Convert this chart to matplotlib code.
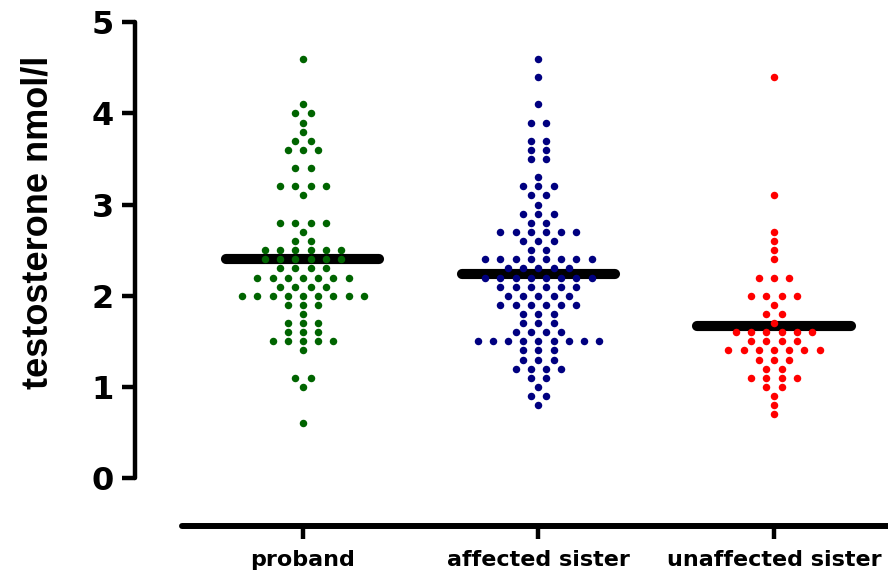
import numpy as np
import matplotlib
matplotlib.use("Agg")
import matplotlib.pyplot as plt
from collections import Counter

# --- Data -------------------------------------------------------------------
groups = ["proband", "affected sister", "unaffected sister"]
colors = ["#006400", "#000080", "#ff0000"]

proband = (
    [4.6, 4.1] + [4.0] * 2 + [3.9, 3.8] + [3.7] * 2 + [3.6] * 3 + [3.4] * 2
    + [3.2] * 4 + [3.1] + [2.8] * 4 + [2.7] + [2.6] * 2 + [2.5] * 6
    + [2.4] * 6 + [2.3] * 4 + [2.2] * 7 + [2.1] * 4 + [2.0] * 9 + [1.9] * 3
    + [1.8] + [1.7] * 3 + [1.6] * 3 + [1.5] * 5 + [1.4] + [1.1] * 2
    + [1.0] + [0.6]
)

affected_sister = (
    [4.6, 4.4, 4.1] + [3.9] * 2 + [3.7] * 2 + [3.6] * 2 + [3.5] * 2 + [3.3]
    + [3.2] * 3 + [3.1] * 2 + [3.0] + [2.9] * 3 + [2.8] * 2 + [2.7] * 6
    + [2.6] * 3 + [2.5] * 2 + [2.4] * 8 + [2.3] * 5 + [2.2] * 8 + [2.1] * 6
    + [2.0] * 5 + [1.9] * 6 + [1.8] * 3 + [1.7] * 3 + [1.6] * 4 + [1.5] * 9
    + [1.4] * 3 + [1.3] * 3 + [1.2] * 4 + [1.1] * 2 + [1.0] + [0.9] * 2
    + [0.8]
)

unaffected_sister = (
    [4.4, 3.1, 2.7, 2.6, 2.5, 2.4] + [2.2] * 3 + [2.0] * 4 + [1.9]
    + [1.8] * 2 + [1.7] + [1.6] * 6 + [1.5] * 4 + [1.4] * 7 + [1.3] * 3
    + [1.2] * 2 + [1.1] * 4 + [1.0] * 2 + [0.9] + [0.8] + [0.7]
)

series = [proband, affected_sister, unaffected_sister]

# --- Layout -----------------------------------------------------------------
W, H = 888, 583
DOT_STEP = 0.0645      # horizontal spacing between tied points (x units)
MEAN_HALF = 0.325      # half length of the mean bar

def spread(values, centre):
    """Lay tied values side by side around the group centre."""
    counts = Counter(values)
    xs, ys = [], []
    for v, n in counts.items():
        offs = (np.arange(n) - (n - 1) / 2) * DOT_STEP
        xs.extend(centre + offs)
        ys.extend([v] * n)
    return np.array(xs), np.array(ys)

plt.rcParams["font.family"] = ["Liberation Sans", "DejaVu Sans"]
plt.rcParams["font.weight"] = "bold"

fig = plt.figure(figsize=(W / 100, H / 100), dpi=100)
ax = fig.add_axes([135 / W, (H - 526) / H, (W - 135) / W, (526 - 15) / H])

for i, (vals, col) in enumerate(zip(series, colors)):
    xs, ys = spread(vals, i)
    ax.plot(xs, ys, "o", color=col, markersize=5.4, markeredgewidth=0,
            zorder=3, clip_on=False)
    m = np.mean(vals)
    ax.plot([i - MEAN_HALF, i + MEAN_HALF], [m, m], color="black", lw=7.3,
            solid_capstyle="round", zorder=2)

ax.set_xlim(-0.713, 2.484)
ax.set_ylim(-0.526, 5.08)

for s in ["top", "right"]:
    ax.spines[s].set_visible(False)
ax.spines["left"].set_bounds(0, 5)
ax.spines["left"].set_linewidth(3.2)
ax.spines["left"].set_capstyle("round")
ax.spines["bottom"].set_bounds(-0.514, 2.484)
ax.spines["bottom"].set_linewidth(4.3)
ax.spines["bottom"].set_capstyle("round")

ax.set_yticks(range(6))
ax.set_yticklabels([str(v) for v in range(6)], fontsize=23,
                   fontweight="bold", family="DejaVu Sans")
ax.tick_params(axis="y", length=9.4, width=3.2, pad=6)

ax.set_xticks(range(len(groups)))
ax.set_xticklabels(groups, fontsize=16, fontweight="bold",
                   family="DejaVu Sans")
ax.tick_params(axis="x", length=9, width=3.2, pad=8)

ax.set_ylabel("testosterone nmol/l", fontsize=26, fontweight="bold")
ax.yaxis.set_label_coords(-0.106, 0.595)

fig.savefig("out.png", dpi=100)
